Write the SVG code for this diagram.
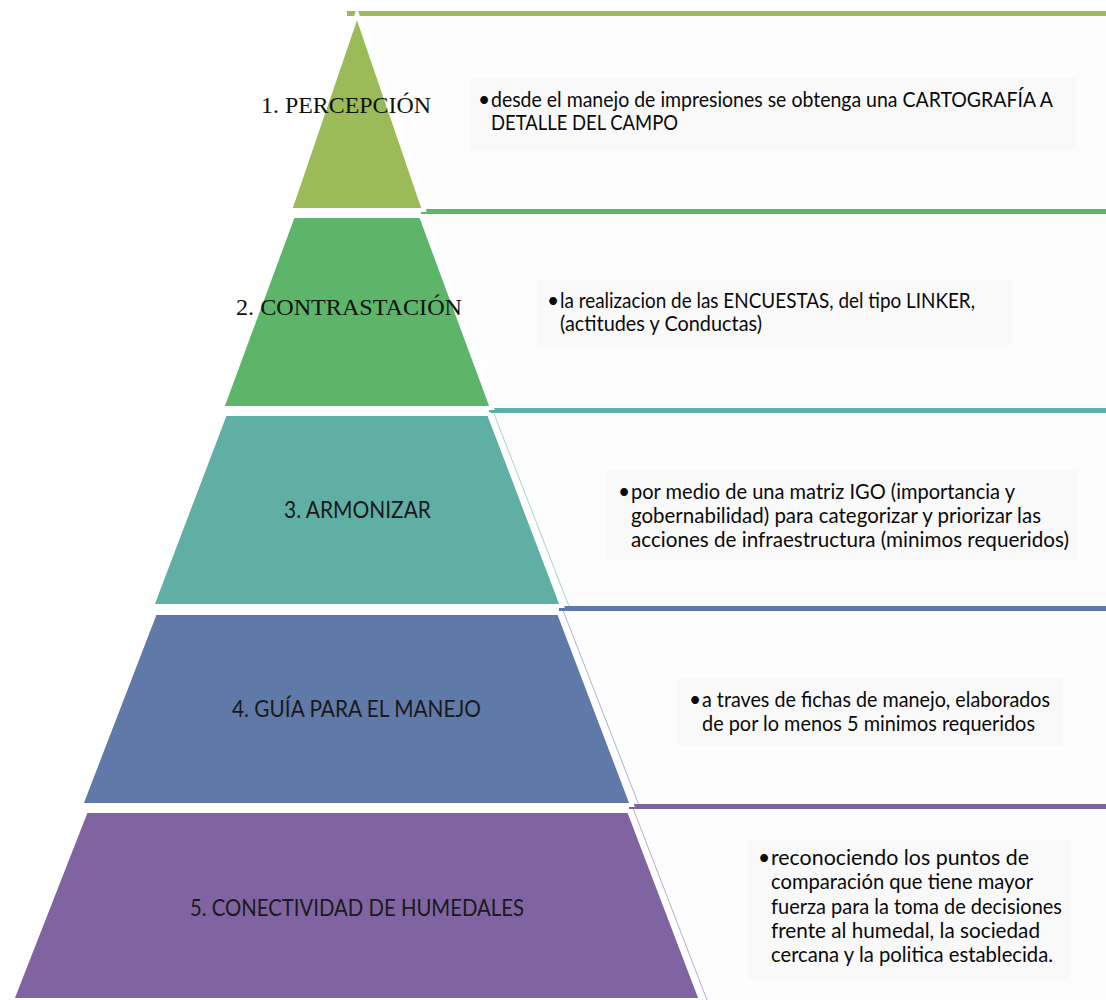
<svg xmlns="http://www.w3.org/2000/svg" width="1106" height="1000" viewBox="0 0 1106 1000">
<defs>
<style>
.box{fill:#FDFDFD;}
.tbg{fill:#F9F9F9;}
.layer{stroke:#FFFFFF;stroke-width:4;stroke-linejoin:miter;}
.edge{fill:none;stroke-width:1;stroke-opacity:0.55;}
.lbls{font-family:"Liberation Serif","Times New Roman",serif;font-size:24px;fill:#111;}
.lbl{font-family:Lato,"Liberation Sans",sans-serif;font-size:23px;fill:#1a1a1a;}
.desc{font-family:Lato,"Liberation Sans",sans-serif;font-size:21px;fill:#0a0a0a;}
.c1{fill:#9BBB59;}
.c2{fill:#5DB56A;}
.c3{fill:#5FAFA5;}
.c4{fill:#5F79A8;}
.c5{fill:#8064A2;}
</style>
</defs>
<rect width="1106" height="1000" fill="#FFFFFF"/>

<!-- description boxes -->
<g id="box1">
<polygon class="box" points="363,13.5 1106,13.5 1106,211.5 430.5,211.5"/>
<rect class="c1" x="347" y="11" width="759" height="5"/>
<rect class="tbg" x="470" y="78" width="606" height="72"/>
<text class="desc" x="478" y="107">•</text>
<text class="desc" x="491" y="107" textLength="562" lengthAdjust="spacingAndGlyphs">desde el manejo de impresiones se obtenga una CARTOGRAFÍA A</text>
<text class="desc" x="491" y="130" textLength="187" lengthAdjust="spacingAndGlyphs">DETALLE DEL CAMPO</text>
</g>
<g id="box2">
<polygon class="box" points="425,211.5 1106,211.5 1106,410.5 499,410.5"/>
<rect class="c2" x="421" y="209" width="685" height="5"/>
<rect class="tbg" x="537" y="280" width="475" height="65"/>
<text class="desc" x="547" y="308">•</text>
<text class="desc" x="560" y="308" textLength="415" lengthAdjust="spacingAndGlyphs">la realizacion de las ENCUESTAS, del tipo LINKER,</text>
<text class="desc" x="560" y="331" textLength="202" lengthAdjust="spacingAndGlyphs">(actitudes y Conductas)</text>
</g>
<g id="box3">
<polygon class="box" points="493.7,410.5 1106,410.5 1106,608.5 568.9,608.5"/>
<line class="edge" x1="493.7" y1="413" x2="568.9" y2="606" stroke="#5FAFA5"/>
<rect class="c3" x="489" y="408" width="617" height="5"/>
<rect class="tbg" x="607" y="470" width="470" height="90"/>
<text class="desc" x="618" y="499">•</text>
<text class="desc" x="631" y="499" textLength="384" lengthAdjust="spacingAndGlyphs">por medio de una matriz IGO (importancia y</text>
<text class="desc" x="631" y="523" textLength="410" lengthAdjust="spacingAndGlyphs">gobernabilidad) para categorizar y priorizar las</text>
<text class="desc" x="631" y="547" textLength="438" lengthAdjust="spacingAndGlyphs">acciones de infraestructura (minimos requeridos)</text>
</g>
<g id="box4">
<polygon class="box" points="563.3,608.5 1106,608.5 1106,806.5 638.5,806.5"/>
<line class="edge" x1="563.3" y1="611" x2="638.5" y2="804" stroke="#5F79A8"/>
<rect class="c4" x="559" y="606" width="547" height="5"/>
<rect class="tbg" x="677" y="678" width="385" height="68"/>
<text class="desc" x="689" y="707">•</text>
<text class="desc" x="702" y="707" textLength="348" lengthAdjust="spacingAndGlyphs">a traves de fichas de manejo, elaborados</text>
<text class="desc" x="702" y="731" textLength="333" lengthAdjust="spacingAndGlyphs">de por lo menos 5 minimos requeridos</text>
</g>
<g id="box5">
<polygon class="box" points="633.3,806.5 1106,806.5 1106,1000 707,1000"/>
<line class="edge" x1="633.3" y1="809" x2="707" y2="1000" stroke="#8064A2"/>
<rect class="c5" x="629" y="804" width="477" height="5"/>
<rect class="tbg" x="748" y="840" width="322" height="140"/>
<text class="desc" x="758" y="865">•</text>
<text class="desc" x="771" y="865" textLength="258" lengthAdjust="spacingAndGlyphs">reconociendo los puntos de</text>
<text class="desc" x="771" y="889" textLength="262" lengthAdjust="spacingAndGlyphs">comparación que tiene mayor</text>
<text class="desc" x="771" y="914" textLength="291" lengthAdjust="spacingAndGlyphs">fuerza para la toma de decisiones</text>
<text class="desc" x="771" y="938" textLength="269" lengthAdjust="spacingAndGlyphs">frente al humedal, la sociedad</text>
<text class="desc" x="771" y="962" textLength="282" lengthAdjust="spacingAndGlyphs">cercana y la politica establecida.</text>
</g>

<!-- pyramid levels -->
<g id="level1">
<polygon class="layer c1" points="357,14 424,210 290,210"/>
<text class="lbls" x="261" y="113" textLength="170" lengthAdjust="spacingAndGlyphs">1. PERCEPCIÓN</text>
</g>
<g id="level2">
<polygon class="layer c2" points="293,216 421,216 492,408 222,408"/>
<text class="lbls" x="236" y="315" textLength="226" lengthAdjust="spacingAndGlyphs">2. CONTRASTACIÓN</text>
</g>
<g id="level3">
<polygon class="layer c3" points="225,414 489,414 562,606 152,606"/>
<text class="lbl" x="284" y="518" textLength="147" lengthAdjust="spacingAndGlyphs">3. ARMONIZAR</text>
</g>
<g id="level4">
<polygon class="layer c4" points="155,613 559,613 632,805 81,805"/>
<text class="lbl" x="232" y="717" textLength="249" lengthAdjust="spacingAndGlyphs">4. GUÍA PARA EL MANEJO</text>
</g>
<g id="level5">
<polygon class="layer c5" points="86,811 629,811 701,1000 12,1000"/>
<text class="lbl" x="190" y="916" textLength="334" lengthAdjust="spacingAndGlyphs">5. CONECTIVIDAD DE HUMEDALES</text>
</g>
</svg>
